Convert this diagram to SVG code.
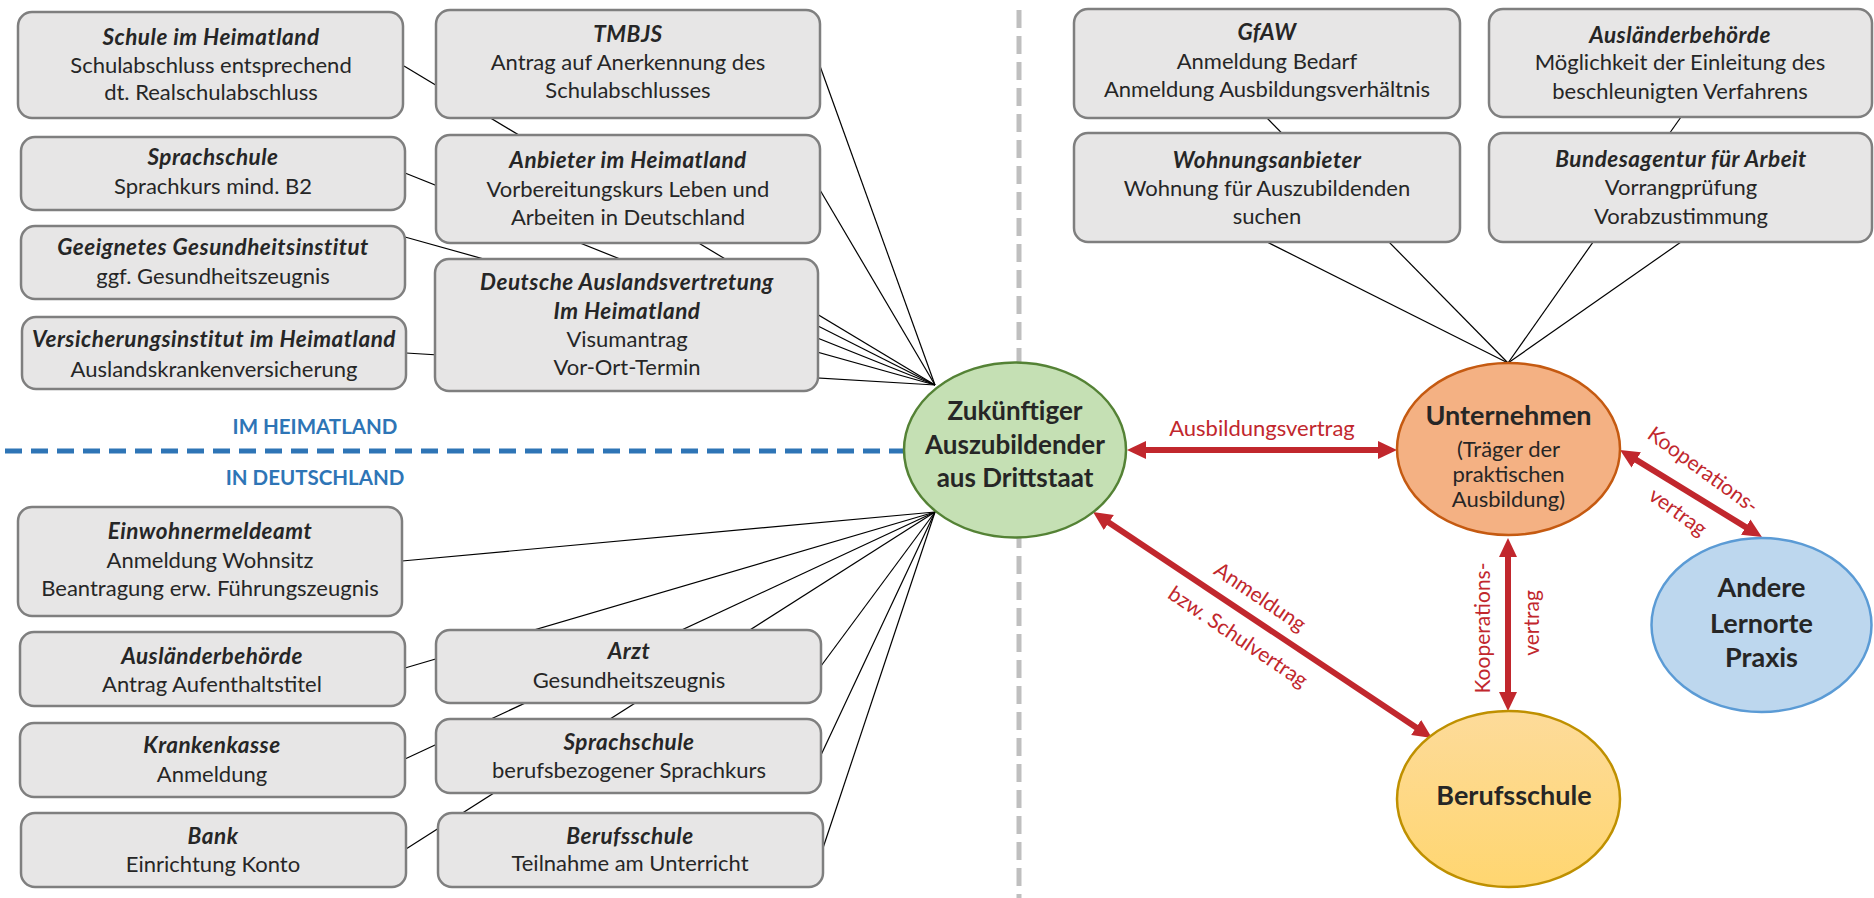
<svg xmlns="http://www.w3.org/2000/svg" width="1874" height="898" viewBox="0 0 1874 898">
<defs>
<style>
.box{fill:#e7e6e6;stroke:#7f7f7f;stroke-width:2.5}
.t{font-family:Lato,"Liberation Sans",sans-serif;font-size:22px;fill:#262626;text-anchor:middle}
.h{font-weight:bold;font-style:italic;font-size:22.5px;letter-spacing:0.5px}
.big{font-family:Lato,"Liberation Sans",sans-serif;font-size:27px;font-weight:bold;fill:#262626;text-anchor:middle}
.az{font-size:26px}
.con{stroke:#000;stroke-width:1.2;fill:none}
.arr{stroke:#c1272d;stroke-width:6;fill:none;marker-start:url(#ah);marker-end:url(#ah)}
.lbl{font-family:Lato,"Liberation Sans",sans-serif;font-size:21px;fill:#c1272d;text-anchor:middle}
.lb2{font-size:22px}
.zone{font-family:Lato,"Liberation Sans",sans-serif;font-size:20.5px;font-weight:bold;fill:#2e75b6;text-anchor:middle}
</style>
<marker id="ah" markerUnits="userSpaceOnUse" markerWidth="20" markerHeight="20" viewBox="0 0 20 20" refX="1" refY="10" orient="auto-start-reverse">
<path d="M0,1 L19,10 L0,19 z" fill="#c1272d"/>
</marker>
<linearGradient id="yg" x1="0" y1="0" x2="0" y2="1">
<stop offset="0" stop-color="#fddb9a"/>
<stop offset="1" stop-color="#ffd670"/>
</linearGradient>
</defs>
<rect width="1874" height="898" fill="#fff"/>

<g id="dividers">
<line x1="1019" y1="10" x2="1019" y2="898" stroke="#bfbfbf" stroke-width="5" stroke-dasharray="18 8"/>
<line x1="5" y1="451" x2="904" y2="451" stroke="#2e75b6" stroke-width="5" stroke-dasharray="17 9"/>
<text class="zone" x="315" y="434">IM HEIMATLAND</text>
<text class="zone" x="315" y="485">IN DEUTSCHLAND</text>
</g>

<g id="connectors">
<line class="con" x1="404" y1="66" x2="935" y2="385"/>
<line class="con" x1="820" y1="66" x2="935" y2="385"/>
<line class="con" x1="405" y1="173" x2="935" y2="385"/>
<line class="con" x1="820" y1="190" x2="935" y2="385"/>
<line class="con" x1="405" y1="237" x2="935" y2="385"/>
<line class="con" x1="818" y1="326" x2="935" y2="385"/>
<line class="con" x1="406" y1="353" x2="935" y2="385"/>
<line class="con" x1="402" y1="561" x2="935" y2="512"/>
<line class="con" x1="405" y1="668" x2="935" y2="512"/>
<line class="con" x1="821" y1="666" x2="935" y2="512"/>
<line class="con" x1="405" y1="759" x2="935" y2="512"/>
<line class="con" x1="821" y1="755" x2="935" y2="512"/>
<line class="con" x1="406" y1="849" x2="935" y2="512"/>
<line class="con" x1="823" y1="848" x2="935" y2="512"/>
<line class="con" x1="1267" y1="118" x2="1508" y2="363"/>
<line class="con" x1="1267" y1="242" x2="1508" y2="363"/>
<line class="con" x1="1681" y1="117" x2="1508" y2="363"/>
<line class="con" x1="1681" y1="242" x2="1508" y2="363"/>
<line class="arr" x1="1145" y1="450" x2="1379" y2="450"/>
<line class="arr" x1="1108" y1="522" x2="1417" y2="728"/>
<line class="arr" x1="1508" y1="556" x2="1508" y2="693"/>
<line class="arr" x1="1635.4" y1="459.4" x2="1746.6" y2="527.6"/>
<text class="lbl lb2" x="1262" y="436">Ausbildungsvertrag</text>
<text class="lbl" transform="translate(1260,597) rotate(34)" y="7">Anmeldung</text>
<text class="lbl" transform="translate(1238,637) rotate(34)" y="7">bzw. Schulvertrag</text>
<text class="lbl" transform="translate(1483,628) rotate(-90)" y="7">Kooperations-</text>
<text class="lbl" transform="translate(1532,623) rotate(-90)" y="7">vertrag</text>
<text class="lbl" transform="translate(1703,470) rotate(36)" y="7">Kooperations-</text>
<text class="lbl" transform="translate(1678,512) rotate(36)" y="7">vertrag</text>
</g>

<g id="n-schule-heimat"><rect class="box" x="18" y="12" width="385" height="106" rx="14"/>
<text class="t h" x="211" y="45">Schule im Heimatland</text>
<text class="t" x="211" y="73">Schulabschluss entsprechend</text>
<text class="t" x="211" y="100">dt. Realschulabschluss</text></g>

<g id="n-tmbjs"><rect class="box" x="436" y="10" width="384" height="108" rx="14"/>
<text class="t h" x="628" y="42">TMBJS</text>
<text class="t" x="628" y="70">Antrag auf Anerkennung des</text>
<text class="t" x="628" y="98">Schulabschlusses</text></g>

<g id="n-sprachschule-heimat"><rect class="box" x="21" y="137" width="384" height="73" rx="14"/>
<text class="t h" x="213" y="165">Sprachschule</text>
<text class="t" x="213" y="194">Sprachkurs mind. B2</text></g>

<g id="n-anbieter"><rect class="box" x="436" y="135" width="384" height="108" rx="14"/>
<text class="t h" x="628" y="168">Anbieter im Heimatland</text>
<text class="t" x="628" y="197">Vorbereitungskurs Leben und</text>
<text class="t" x="628" y="225">Arbeiten in Deutschland</text></g>

<g id="n-gesundheitsinstitut"><rect class="box" x="21" y="226" width="384" height="73" rx="14"/>
<text class="t h" x="213" y="255">Geeignetes Gesundheitsinstitut</text>
<text class="t" x="213" y="284">ggf. Gesundheitszeugnis</text></g>

<g id="n-auslandsvertretung"><rect class="box" x="435" y="259" width="383" height="132" rx="14"/>
<text class="t h" x="627" y="290">Deutsche Auslandsvertretung</text>
<text class="t h" x="627" y="319">Im Heimatland</text>
<text class="t" x="627" y="347">Visumantrag</text>
<text class="t" x="627" y="375">Vor-Ort-Termin</text></g>

<g id="n-versicherung"><rect class="box" x="22" y="317" width="384" height="72" rx="14"/>
<text class="t h" x="214" y="347">Versicherungsinstitut im Heimatland</text>
<text class="t" x="214" y="377">Auslandskrankenversicherung</text></g>

<g id="n-einwohnermeldeamt"><rect class="box" x="18" y="507" width="384" height="109" rx="14"/>
<text class="t h" x="210" y="539">Einwohnermeldeamt</text>
<text class="t" x="210" y="568">Anmeldung Wohnsitz</text>
<text class="t" x="210" y="596">Beantragung erw. Führungszeugnis</text></g>

<g id="n-auslaenderbehoerde-de"><rect class="box" x="20" y="632" width="385" height="74" rx="14"/>
<text class="t h" x="212" y="664">Ausländerbehörde</text>
<text class="t" x="212" y="692">Antrag Aufenthaltstitel</text></g>

<g id="n-arzt"><rect class="box" x="436" y="630" width="385" height="73" rx="14"/>
<text class="t h" x="629" y="659">Arzt</text>
<text class="t" x="629" y="688">Gesundheitszeugnis</text></g>

<g id="n-krankenkasse"><rect class="box" x="20" y="723" width="385" height="74" rx="14"/>
<text class="t h" x="212" y="753">Krankenkasse</text>
<text class="t" x="212" y="782">Anmeldung</text></g>

<g id="n-sprachschule-de"><rect class="box" x="436" y="719" width="385" height="74" rx="14"/>
<text class="t h" x="629" y="750">Sprachschule</text>
<text class="t" x="629" y="778">berufsbezogener Sprachkurs</text></g>

<g id="n-bank"><rect class="box" x="21" y="813" width="385" height="74" rx="14"/>
<text class="t h" x="213" y="844">Bank</text>
<text class="t" x="213" y="872">Einrichtung Konto</text></g>

<g id="n-berufsschule-box"><rect class="box" x="438" y="813" width="385" height="74" rx="14"/>
<text class="t h" x="630" y="844">Berufsschule</text>
<text class="t" x="630" y="871">Teilnahme am Unterricht</text></g>

<g id="n-gfaw"><rect class="box" x="1074" y="9" width="386" height="109" rx="14"/>
<text class="t h" x="1267" y="40">GfAW</text>
<text class="t" x="1267" y="69">Anmeldung Bedarf</text>
<text class="t" x="1267" y="97">Anmeldung Ausbildungsverhältnis</text></g>

<g id="n-auslaenderbehoerde-u"><rect class="box" x="1489" y="9" width="383" height="108" rx="14"/>
<text class="t h" x="1680" y="43">Ausländerbehörde</text>
<text class="t" x="1680" y="70">Möglichkeit der Einleitung des</text>
<text class="t" x="1680" y="99">beschleunigten Verfahrens</text></g>

<g id="n-wohnungsanbieter"><rect class="box" x="1074" y="133" width="386" height="109" rx="14"/>
<text class="t h" x="1267" y="168">Wohnungsanbieter</text>
<text class="t" x="1267" y="196">Wohnung für Auszubildenden</text>
<text class="t" x="1267" y="224">suchen</text></g>

<g id="n-bundesagentur"><rect class="box" x="1489" y="133" width="383" height="109" rx="14"/>
<text class="t h" x="1681" y="167">Bundesagentur für Arbeit</text>
<text class="t" x="1681" y="195">Vorrangprüfung</text>
<text class="t" x="1681" y="224">Vorabzustimmung</text></g>

<g id="n-azubi"><ellipse cx="1015" cy="450" rx="111" ry="87.5" fill="#c5e0b4" stroke="#548235" stroke-width="2.5"/>
<text class="big az" x="1015" y="420">Zukünftiger</text>
<text class="big az" x="1015" y="454">Auszubildender</text>
<text class="big az" x="1015" y="487">aus Drittstaat</text></g>

<g id="n-unternehmen"><ellipse cx="1508.5" cy="449" rx="111.5" ry="86" fill="#f4b183" stroke="#c55a11" stroke-width="2.5"/>
<text class="big" x="1508.5" y="425">Unternehmen</text>
<text class="t" x="1508.5" y="457">(Träger der</text>
<text class="t" x="1508.5" y="482">praktischen</text>
<text class="t" x="1508.5" y="507">Ausbildung)</text></g>

<g id="n-lernorte"><ellipse cx="1761.5" cy="625" rx="110" ry="87" fill="#bdd7ee" stroke="#5b9bd5" stroke-width="2.5"/>
<text class="big" x="1761.5" y="597">Andere</text>
<text class="big" x="1761.5" y="633">Lernorte</text>
<text class="big" x="1761.5" y="667">Praxis</text></g>

<g id="n-berufsschule"><ellipse cx="1508.5" cy="799" rx="111.5" ry="88" fill="url(#yg)" stroke="#bf9000" stroke-width="2.5"/>
<text class="big" x="1514" y="805">Berufsschule</text></g>
</svg>
